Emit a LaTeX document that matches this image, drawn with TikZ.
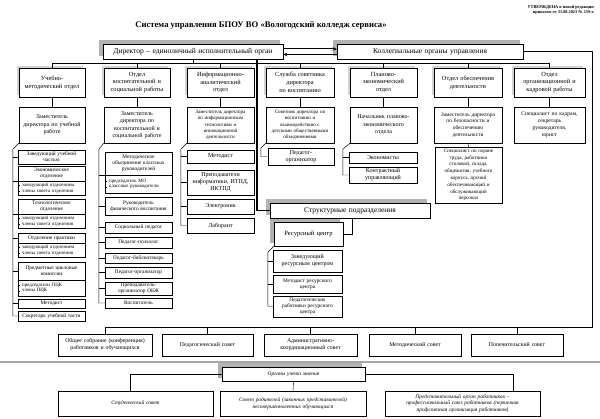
\documentclass[tikz,border=0pt]{standalone}
\usepackage{fontspec}
\setmainfont{Liberation Serif}
\usetikzlibrary{arrows.meta,calc,backgrounds}
\hyphenpenalty=10000 \exhyphenpenalty=10000
\newcommand\fs[2]{\fontsize{#1}{#2}\selectfont}
\newcommand\bul{\rule[0.25ex]{0.9pt}{0.9pt}\hspace{2pt}}
\newcommand\bx[7][]{%
  \pgfmathsetmacro\bxw{#5-#3}\pgfmathsetmacro\bxh{#6-#4}\pgfmathsetmacro\bxt{#5-#3-2.5}%
  \node[base,#1,minimum width=\bxw pt,minimum height=\bxh pt,text width=\bxt pt] (#2) at ({(#3+#5)/2},{(#4+#6)/2}) {#7};}
\tikzset{
  base/.style={draw=black, line width=0.45pt, fill=white, inner sep=0.5pt, align=center, text=black},
  hdrbox/.style={font=\fs{7.5}{9}},
  deptbox/.style={font=\fs{6.3}{7.8}},
  zambox/.style={font=\fs{6}{7.4}},
  zamsm/.style={font=\fs{5}{6.3}},
  subbox/.style={font=\fs{5.3}{6.2}},
  subbig/.style={font=\fs{6}{7}},
  bulbox/.style={font=\fs{4.9}{5.8}, align=left},
  council/.style={font=\fs{5.8}{7}},
  opinion/.style={font=\fs{5.4}{6.8}\itshape},
  conn/.style={draw=black, line width=0.45pt},
  thickconn/.style={draw=black, line width=1.3pt},
  arr/.style={draw=black, line width=1pt, -{Stealth[length=4pt,width=3.5pt]}},
  sep/.style={draw=gray!70, line width=1.2pt},
  darkshadow/.style={fill=gray!60},
  lightshadow/.style={fill=gray!35}
}
\begin{document}
\begin{tikzpicture}[x=1pt,y=-1pt]
\useasboundingbox (0,0) rectangle (600,419);

% header
\node[anchor=north east, align=right, inner sep=0pt, font=\fs{4.3}{5.3}\bfseries] (approve) at (594,5) {УТВЕРЖДЕНА в новой редакции\\приказом от 31.08.2023 № 159-о};
\node[inner sep=0pt, font=\fs{8.6}{10}\bfseries] (title) at (261,25) {Система управления БПОУ ВО «Вологодский колледж сервиса»};

% top level
\bx[hdrbox]{dir}{103}{44}{283}{59}{Директор – единоличный исполнительный орган}
\bx[hdrbox]{coll}{337}{44}{523}{59}{Коллегиальные органы управления}
\draw[arr] ($(dir.east)+(0,-2.5)$) -- ($(coll.west)+(0,-2.5)$);
\draw[arr] ($(coll.west)+(0,3)$) -- ($(dir.east)+(0,3)$);

% departments
\bx[deptbox]{d1}{19}{68}{85}{97}{Учебно-\\методический отдел}
\bx[deptbox]{d2}{104}{68}{170}{97}{Отдел\\воспитательной и\\социальной работы}
\bx[deptbox]{d3}{187}{68}{254}{97}{Информационно-\\аналитический\\отдел}
\bx[deptbox]{d4}{266}{68}{334}{97}{Служба советника\\директора\\по воспитанию}
\bx[deptbox]{d5}{350}{68}{417}{97}{Планово-\\экономический\\отдел}
\bx[deptbox]{d6}{434}{68}{502}{97}{Отдел обеспечения\\деятельности}
\bx[deptbox]{d7}{514}{68}{585}{97}{Отдел\\организационной и\\кадровой работы}

\coordinate (hl) at (0,63);
\draw[conn] (d1.north |- hl) -- (d7.north |- hl);
\draw[conn] (dir.south) -- (dir.south |- hl);
\foreach \k in {1,...,7}{\draw[conn] (d\k.north |- hl) -- (d\k.north);}

% deputies
\bx[zambox]{z1}{19}{107}{85}{143}{Заместитель\\директора по учебной\\работе}
\bx[zambox]{z2}{104}{107}{170}{143}{Заместитель\\директора по\\воспитательной и\\социальной работе}
\bx[zamsm]{z3}{187}{107}{254}{143}{Заместитель директора\\по информационным\\технологиям и\\инновационной\\деятельности}
\bx[zamsm]{z4}{266}{107}{334}{143}{Советник директора по\\воспитанию и\\взаимодействию с\\детскими общественными\\объединениями}
\bx[zambox]{z5}{350}{107}{417}{143}{Начальник планово-\\экономического\\отдела}
\bx[font=\fs{5.4}{6.8}]{z6}{434}{107}{502}{143}{Заместитель директора\\по безопасности и\\обеспечению\\деятельности}
\bx[font=\fs{5.6}{7}]{z7}{514}{107}{585}{143}{Специалист по кадрам,\\секретарь\\руководителя,\\юрист}
\foreach \k in {1,...,7}{\draw[conn] (d\k.south) -- (z\k.north);}

% column 1
\bx[subbox]{a1}{18}{150}{85}{164}{Заведующий учебной\\частью}
\bx[subbox]{a2t}{18}{166}{85}{181}{Экономическое\\отделение}
\bx[bulbox]{a2b}{18}{181}{85}{195}{\bul заведующий отделением\\\bul члены совета отделения}
\bx[subbox]{a3t}{18}{199}{85}{214}{Технологическое\\отделение}
\bx[bulbox]{a3b}{18}{214}{85}{228}{\bul заведующий отделением\\\bul члены совета отделения}
\bx[subbox]{a4t}{18}{233}{85}{243}{Отделение практики}
\bx[bulbox]{a4b}{18}{243}{85}{257}{\bul заведующий отделением\\\bul члены совета отделения}
\bx[subbox]{a5t}{18}{262}{85}{280}{Предметные цикловые\\комиссии}
\bx[bulbox]{a5b}{18}{280}{85}{296}{\bul председатели ПЦК\\\bul члены ПЦК}
\bx[subbox]{a6}{18}{299}{85}{308}{Методист}
\bx[subbox]{a7}{18}{311}{85}{321}{Секретарь учебной части}
\draw[conn] (z1.south west) -- ++(-6,6) coordinate (br1) |- (a7.west);
\foreach \n in {a1.west,a2t.south west,a3t.south west,a4t.west,a5t.west,a6.west}{\draw[conn] (br1 |- \n) -- (\n);}

% column 2
\bx[subbox]{b1t}{105}{152}{172}{175}{Методическое\\объединение классных\\руководителей}
\bx[bulbox]{b1b}{105}{175}{172}{193}{\bul председатель МО\\\bul классные руководители}
\bx[subbox]{b2}{105}{197}{172}{215}{Руководитель\\физического воспитания}
\bx[subbox]{b3}{105}{222}{172}{233}{Социальный педагог}
\bx[subbox]{b4}{105}{237}{172}{248}{Педагог-психолог}
\bx[subbox]{b5}{105}{253}{172}{263}{Педагог-библиотекарь}
\bx[subbox]{b6}{105}{267}{172}{278}{Педагог-организатор}
\bx[subbox]{b7}{105}{282}{172}{295}{Преподаватель-\\организатор ОБЖ}
\bx[subbox]{b8}{105}{298}{172}{308}{Воспитатель}
\draw[conn] (z2.south west) -- ++(-5,6) coordinate (br2) |- (b8.west);
\foreach \n in {b1t.south west,b2.west,b3.west,b4.west,b5.west,b6.west,b7.west}{\draw[conn] (br2 |- \n) -- (\n);}

% column 3
\bx[subbig]{c1}{187}{150}{254}{163}{Методист}
\bx[subbig]{c2}{187}{170}{254}{195}{Преподаватели\\информатики, ИТПД,\\ИКТПД}
\bx[subbig]{c3}{187}{199}{254}{214}{Электроник}
\bx[subbig]{c4}{187}{218}{254}{233}{Лаборант}
\draw[conn] (z3.south west) -- ++(-6,6) coordinate (br3) |- (c4.west);
\foreach \n in {c1,c2,c3}{\draw[conn] (br3 |- \n.west) -- (\n.west);}

% column 4
\bx[subbig]{e1}{268}{148}{334}{165}{Педагог-\\организатор}
\draw[conn] (z4.south west) -- ++(-5,5) |- (e1.west);

% column 5
\bx[subbig]{f1}{349}{152}{417}{163}{Экономисты}
\bx[subbig]{f2}{349}{167}{417}{183}{Контрактный\\управляющий}
\draw[conn] (z5.south west) -- ++(-7,6) coordinate (br5) |- (f2.west);
\draw[conn] (br5 |- f1.west) -- (f1.west);

% column 6
\bx[font=\fs{5.1}{6.8}]{g1}{435}{147}{502}{203}{Специалист по охране\\труда, работники\\столовой, склада,\\общежития, учебного\\корпуса, прочий\\обеспечивающий и\\обслуживающий\\персонал}
\draw[conn] (z6.south) -- (g1.north);

% structural units
\bx[hdrbox]{s}{270}{203}{430}{218}{Структурные подразделения}
\coordinate (tv) at (257,59);
\draw[thickconn] (tv) |- (s.west);
\bx[hdrbox,font=\fs{6.5}{8}]{r}{274}{222}{343}{246}{Ресурсный центр}
\coordinate (sr) at (352,218);
\draw[conn] (sr) |- (r.east);
\bx[subbig]{r1}{273}{250}{342}{272}{Заведующий\\ресурсным центром}
\bx[subbox]{r2}{273}{275}{342}{293}{Методист ресурсного\\центра}
\bx[subbox]{r3}{273}{296}{342}{317}{Педагогические\\работники ресурсного\\центра}
\draw[conn] (r.south west) -- ++(-6,6) coordinate (brr) |- (r3.west);
\foreach \n in {r1,r2}{\draw[conn] (brr |- \n.west) -- (\n.west);}

% councils
\bx[council]{k1}{58}{334}{152}{356}{Общее собрание (конференция)\\работников и обучающихся}
\bx[council]{k2}{162}{334}{253}{356}{Педагогический совет}
\bx[council]{k3}{264}{334}{357}{356}{Административно-\\координационный совет}
\bx[council]{k4}{369}{334}{461}{356}{Методический совет}
\bx[council]{k5}{471}{334}{563}{356}{Попечительский совет}
\coordinate (cr) at (592,327);
\draw[conn] (coll.east) -| (cr) -- (k1.north |- cr);
\foreach \k in {1,...,5}{\draw[conn] (k\k.north |- cr) -- (k\k.north);}

% separator
\coordinate (sepl) at (0,362);
\coordinate (sepr) at (600,362);
\draw[sep] (sepl) -- (sepr);

% opinion bodies
\bx[opinion]{o}{222}{367}{365}{381}{Органы учета мнения}
\bx[opinion]{m1}{58}{391}{213}{416}{Студенческий совет}
\bx[opinion]{m2}{220}{391}{366}{416}{Совет родителей (законных представителей)\\несовершеннолетних обучающихся}
\bx[opinion]{m3}{385}{391}{540}{416}{Представительный орган работников –\\профессиональный союз работников (первичная\\профсоюзная организация работников)}
\coordinate (ol) at (130,374);
\coordinate (orr) at (513,374);
\draw[conn] (o.west) -- (ol) -- (ol |- m1.north);
\draw[conn] (o.east) -- (orr) -- (orr |- m3.north);
\draw[conn] (o.south) -- (m2.north);

% shadows (behind everything)
\begin{pgfonlayer}{background}
  \fill[white] (0,0) rectangle (600,419);
  \foreach \n in {dir,coll,s,r,o}{\fill[darkshadow] ($(\n.north west)+(-3.5,-3.5)$) rectangle ($(\n.south east)+(-3.5,-3.5)$);}
  \foreach \n in {d1,d2,d3,d4,d5,d6,d7}{\fill[lightshadow] ($(\n.north west)+(-2.2,-2.2)$) rectangle ($(\n.south east)+(-2.2,-2.2)$);}
\end{pgfonlayer}
\end{tikzpicture}
\end{document}
